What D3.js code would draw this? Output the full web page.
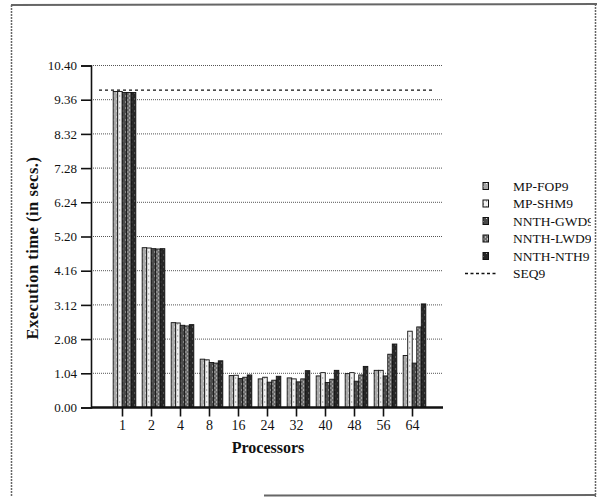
<!DOCTYPE html>
<html>
<head>
<meta charset="utf-8">
<script src="https://cdn.jsdelivr.net/npm/d3@7"></script>
<style>
  body { margin: 0; background: #fff; }
  svg { display: block; }
</style>
</head>
<body>
<div id="chart"></div>
<script>
// processors on the x axis
var processors = ["1", "2", "4", "8", "16", "24", "32", "40", "48", "56", "64"];
var seriesNames = ["MP-FOP9", "MP-SHM9", "NNTH-GWD9", "NNTH-LWD9", "NNTH-NTH9"];

// execution times (secs)
var mpFop   = [9.61, 4.86, 2.58, 1.47, 0.97, 0.87, 0.90, 0.96, 1.03, 1.13, 1.58];
var mpShm   = [9.61, 4.85, 2.57, 1.45, 0.98, 0.92, 0.87, 1.06, 1.06, 1.13, 2.32];
var nnthGwd = [9.58, 4.83, 2.50, 1.37, 0.88, 0.77, 0.78, 0.76, 0.80, 0.96, 1.35];
var nnthLwd = [9.58, 4.82, 2.48, 1.35, 0.92, 0.83, 0.87, 0.86, 0.99, 1.62, 2.45];
var nnthNth = [9.58, 4.83, 2.52, 1.42, 0.99, 0.95, 1.12, 1.13, 1.25, 1.93, 3.15];
var seqTime = 9.65;

var yTicks = [0, 1.04, 2.08, 3.12, 4.16, 5.20, 6.24, 7.28, 8.32, 9.36, 10.40];

var allSeries = [mpFop, mpShm, nnthGwd, nnthLwd, nnthNth];

var svgWidth = 601, svgHeight = 497;
var margin = { top: 65.5, left: 91, right: 158, bottom: 89.5 };
var chartWidth = svgWidth - margin.left - margin.right;
var chartHeight = svgHeight - margin.top - margin.bottom;

var svg = d3.select("#chart").append("svg")
    .attr("width", svgWidth)
    .attr("height", svgHeight)
    .style("font-family", "'Liberation Serif', 'DejaVu Serif', serif");

// stipple patterns, one per series
var patternDefs = [
    { bg: "#a8a8a8", dot: "#ffffff", size: 3 },
    { bg: "#f2f2f2", dot: "#6a6a6a", size: 3 },
    { bg: "#4a4a4a", dot: "#d8d8d8", size: 3 },
    { bg: "#6e6e6e", dot: "#ffffff", size: 2 },
    { bg: "#262626", dot: "#9a9a9a", size: 3 }
];
var defs = svg.append("defs");
patternDefs.forEach(function (p, i) {
    var pat = defs.append("pattern")
        .attr("id", "pat" + i)
        .attr("patternUnits", "userSpaceOnUse")
        .attr("width", p.size * 2)
        .attr("height", p.size * 2);
    pat.append("rect").attr("width", p.size * 2).attr("height", p.size * 2).attr("fill", p.bg);
    pat.append("rect").attr("x", 0).attr("y", 0).attr("width", 1).attr("height", 1).attr("fill", p.dot);
    pat.append("rect").attr("x", p.size).attr("y", p.size).attr("width", 1).attr("height", 1).attr("fill", p.dot);
});

// legend text gets cut by the page edge
defs.append("clipPath").attr("id", "pageClip")
    .append("rect").attr("x", 0).attr("y", 0).attr("width", 591).attr("height", svgHeight);

// page frame
var frame = svg.append("g").attr("stroke", "#666").attr("fill", "none");
frame.append("line").attr("x1", 11).attr("y1", 5).attr("x2", 597).attr("y2", 4).attr("stroke-width", 2);
frame.append("line").attr("x1", 11.5).attr("y1", 5).attr("x2", 11.5).attr("y2", 497)
    .attr("stroke-width", 1.5).attr("stroke-dasharray", "2,1");
frame.append("line").attr("x1", 595.5).attr("y1", 4).attr("x2", 595.5).attr("y2", 497)
    .attr("stroke-width", 1.5).attr("stroke-dasharray", "2,1");
frame.append("line").attr("x1", 264).attr("y1", 495.5).attr("x2", 596).attr("y2", 495)
    .attr("stroke-width", 2);

var chartGroup = svg.append("g")
    .attr("transform", `translate(${margin.left}, ${margin.top})`);

var xScale = d3.scaleBand()
    .domain(processors)
    .range([19, 338])
    .paddingInner(0.22)
    .paddingOuter(0.11);

var xInner = d3.scaleBand()
    .domain(d3.range(seriesNames.length))
    .range([0, xScale.bandwidth()]);

var yScale = d3.scaleLinear()
    .domain([0, 10.40])
    .range([chartHeight, 0]);

// dotted grid lines
chartGroup.append("g")
    .selectAll("line")
    .data(yTicks.slice(1))
    .enter()
    .append("line")
    .attr("x1", 0)
    .attr("x2", chartWidth)
    .attr("y1", d => yScale(d))
    .attr("y2", d => yScale(d))
    .attr("stroke", "#555")
    .attr("stroke-width", 1)
    .attr("stroke-dasharray", "1,1");

// bars
var groups = chartGroup.selectAll(".grp")
    .data(processors)
    .enter()
    .append("g")
    .attr("transform", d => `translate(${xScale(d)}, 0)`);

groups.selectAll("rect")
    .data((d, i) => allSeries.map((s, j) => ({ j: j, v: s[i] })))
    .enter()
    .append("rect")
    .attr("x", d => xInner(d.j))
    .attr("y", d => yScale(d.v))
    .attr("width", xInner.bandwidth())
    .attr("height", d => chartHeight - yScale(d.v))
    .attr("fill", d => `url(#pat${d.j})`)
    .attr("stroke", "#111")
    .attr("stroke-width", 0.9);

// sequential time line
chartGroup.append("line")
    .attr("x1", 8)
    .attr("x2", chartWidth - 8)
    .attr("y1", yScale(seqTime))
    .attr("y2", yScale(seqTime))
    .attr("stroke", "#111")
    .attr("stroke-width", 1.3)
    .attr("stroke-dasharray", "3,3");

// axes
var yAxis = d3.axisLeft(yScale)
    .tickValues(yTicks)
    .tickFormat(d => d.toFixed(2))
    .tickSize(10)
    .tickPadding(4);
var yAxisG = chartGroup.append("g").call(yAxis);
yAxisG.select(".domain").attr("stroke", "#111").attr("stroke-width", 1.6);
yAxisG.selectAll(".tick line").attr("stroke", "#111").attr("stroke-width", 1.6);
yAxisG.selectAll("text").attr("font-size", "13px").attr("fill", "#111")
    .style("font-family", "'Liberation Serif', serif");

// tick marks sit a little left of the bar groups
var xAxis = d3.axisBottom(xScale).tickSize(9).tickPadding(4).tickSizeOuter(0);
var xAxisG = chartGroup.append("g")
    .attr("transform", `translate(-2, ${chartHeight})`)
    .call(xAxis);
xAxisG.select(".domain").attr("stroke", "#111").attr("stroke-width", 2.4)
    .attr("d", `M2,0H${chartWidth + 2}`);
xAxisG.selectAll(".tick line").attr("stroke", "#111").attr("stroke-width", 1.6);
xAxisG.selectAll("text").attr("font-size", "14px").attr("fill", "#111")
    .style("font-family", "'Liberation Serif', serif");

// axis titles
chartGroup.append("text")
    .attr("transform", `translate(${268 - margin.left}, ${chartHeight + 45})`)
    .attr("text-anchor", "middle")
    .attr("font-size", "16px")
    .attr("font-weight", "bold")
    .attr("fill", "#111")
    .text("Processors");

chartGroup.append("text")
    .attr("transform", `translate(${38 - margin.left}, ${248 - margin.top}) rotate(-90)`)
    .attr("text-anchor", "middle")
    .attr("font-size", "16.5px")
    .attr("font-weight", "bold")
    .attr("letter-spacing", "0.5px")
    .attr("fill", "#111")
    .text("Execution time (in secs.)");

// legend
var legend = svg.append("g")
    .attr("clip-path", "url(#pageClip)")
    .append("g")
    .attr("transform", "translate(483, 186)");
var rowH = 17.5;
seriesNames.forEach(function (name, i) {
    var row = legend.append("g").attr("transform", `translate(0, ${i * rowH})`);
    row.append("rect")
        .attr("x", 0).attr("y", -3.5).attr("width", 5.5).attr("height", 7)
        .attr("fill", `url(#pat${i})`)
        .attr("stroke", "#111").attr("stroke-width", 1);
    row.append("text")
        .attr("x", 30).attr("y", 4.5)
        .attr("font-size", "13.5px")
        .attr("fill", "#111")
        .text(name);
});
var seqRow = legend.append("g").attr("transform", `translate(0, ${5 * rowH})`);
seqRow.append("line")
    .attr("x1", -18).attr("x2", 14).attr("y1", 0).attr("y2", 0)
    .attr("stroke", "#111").attr("stroke-width", 1.3).attr("stroke-dasharray", "3,2.5");
seqRow.append("text")
    .attr("x", 30).attr("y", 4.5)
    .attr("font-size", "13.5px")
    .attr("fill", "#111")
    .text("SEQ9");
</script>
</body>
</html>
